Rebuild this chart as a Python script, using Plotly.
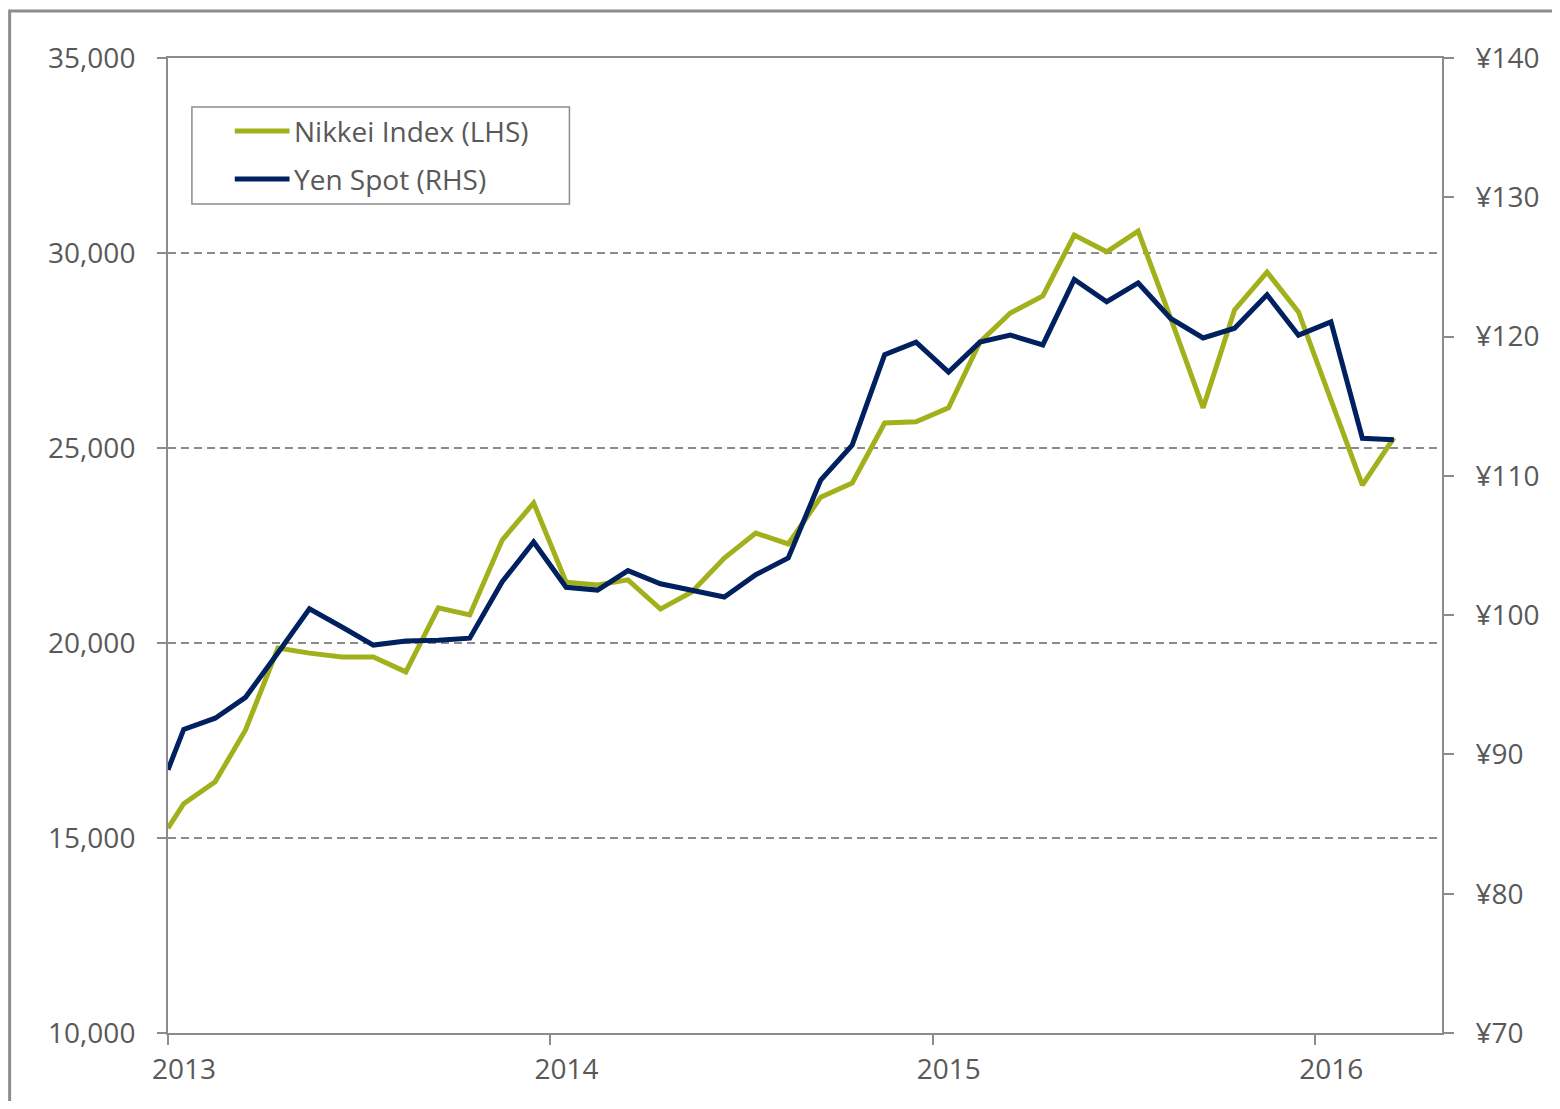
import plotly.graph_objects as go

# ---- data ----
dates = ["2013-01-01", "2013-01-16", "2013-02-15", "2013-03-16", "2013-04-16", "2013-05-16",
         "2013-06-16", "2013-07-16", "2013-08-16", "2013-09-16", "2013-10-16", "2013-11-16",
         "2013-12-16", "2014-01-16", "2014-02-15", "2014-03-16", "2014-04-16", "2014-05-16",
         "2014-06-16", "2014-07-16", "2014-08-16", "2014-09-16", "2014-10-16", "2014-11-16",
         "2014-12-16", "2015-01-16", "2015-02-15", "2015-03-16", "2015-04-16", "2015-05-16",
         "2015-06-16", "2015-07-16", "2015-08-16", "2015-09-16", "2015-10-16", "2015-11-16",
         "2015-12-16", "2016-01-16", "2016-02-15", "2016-03-16"]

nikkei = [15250, 15880, 16440, 17770, 19870, 19740, 19640, 19640, 19260, 20900,
          20720, 22640, 23590, 21560, 21490, 21620, 20870, 21310, 22180, 22820,
          22540, 23740, 24100, 25640, 25670, 26030, 27720, 28460, 28900, 30460,
          30030, 30560, 28330, 26030, 28540, 29510, 28490, 26250, 24050, 25260]

yen = [88.9, 91.8, 92.6, 94.1, 97.3, 100.45, 99.15, 97.85, 98.15, 98.2,
       98.35, 102.4, 105.25, 102.0, 101.8, 103.2, 102.25, 101.8, 101.3, 102.9,
       104.1, 109.7, 112.2, 118.7, 119.6, 117.45, 119.6, 120.1, 119.4, 124.1,
       122.5, 123.85, 121.3, 119.9, 120.6, 123.0, 120.1, 121.05, 112.7, 112.6]

series_names = ["Nikkei Index (LHS)", "Yen Spot (RHS)"]
year_ticks = ["2013-01-01", "2014-01-01", "2015-01-01", "2016-01-01"]
year_labels = ["2013", "2014", "2015", "2016"]
left_ticks = [10000, 15000, 20000, 25000, 30000, 35000]
right_ticks = [70, 80, 90, 100, 110, 120, 130, 140]
right_labels = ["¥" + str(v) for v in right_ticks]

FONT = "Open Sans, Noto Sans, sans-serif"
FS = 28
GRAY = "#8c8c8c"
TXT = "#595959"
GREEN = "#A2B11B"
NAVY = "#002060"
colors = [GREEN, NAVY]

fig = go.Figure()
fig.add_trace(go.Scatter(x=dates, y=nikkei, name=series_names[0], mode="lines",
                         line=dict(color=GREEN, width=5), yaxis="y", showlegend=False))
fig.add_trace(go.Scatter(x=dates, y=yen, name=series_names[1], mode="lines",
                         line=dict(color=NAVY, width=5), yaxis="y2", showlegend=False))

# legend drawn as a boxed key in the upper-left of the plot area
legend_rows_y = [0.9251, 0.8759]
shapes = [
    dict(type="rect", xref="paper", yref="paper",
         x0=0.01877, x1=0.3151, y0=0.8503, y1=0.9497,
         line=dict(color=GRAY, width=1.5), fillcolor="white", layer="above"),
    dict(type="rect", xref="paper", yref="paper",
         x0=-0.1243, x1=1.104, y0=-0.0995, y1=1.0482,
         line=dict(color=GRAY, width=3)),
]
annotations = []
for name, col, yy in zip(series_names, colors, legend_rows_y):
    shapes.append(dict(type="line", xref="paper", yref="paper",
                       x0=0.0524, x1=0.0954, y0=yy, y1=yy,
                       line=dict(color=col, width=5), layer="above"))
    annotations.append(dict(xref="paper", yref="paper", x=0.0977, y=yy,
                            xanchor="left", yanchor="middle", showarrow=False,
                            text=name, font=dict(family=FONT, size=FS, color=TXT)))

fig.update_layout(
    width=1544, height=1093,
    margin=dict(l=160, r=105, t=50, b=68),
    paper_bgcolor="white", plot_bgcolor="white",
    font=dict(family=FONT, size=FS, color=TXT),
    showlegend=False,
    xaxis=dict(type="date", range=["2013-01-01", "2016-05-01"],
               tickvals=year_ticks, ticktext=year_labels,
               ticks="outside", ticklen=10, tickwidth=2, tickcolor=GRAY,
               showline=True, linecolor=GRAY, linewidth=2, mirror=True,
               showgrid=False, zeroline=False, ticklabelshift=16,
               tickfont=dict(size=FS, color=TXT)),
    yaxis=dict(range=[10000, 35000], tickvals=left_ticks, tickformat=",",
               ticks="outside", ticklen=9, tickwidth=2, tickcolor=GRAY,
               showline=True, linecolor=GRAY, linewidth=2,
               showgrid=True, gridcolor=GRAY, gridwidth=2, griddash="8px,5px",
               zeroline=False, ticklabelstandoff=16,
               tickfont=dict(size=FS, color=TXT)),
    yaxis2=dict(range=[70, 140], tickvals=right_ticks, ticktext=right_labels,
                overlaying="y", side="right",
                ticks="outside", ticklen=10, tickwidth=2, tickcolor=GRAY,
                showline=True, linecolor=GRAY, linewidth=2,
                showgrid=False, zeroline=False, ticklabelstandoff=16,
                tickfont=dict(size=FS, color=TXT)),
    shapes=shapes,
    annotations=annotations,
)

fig.write_html("out.html")
